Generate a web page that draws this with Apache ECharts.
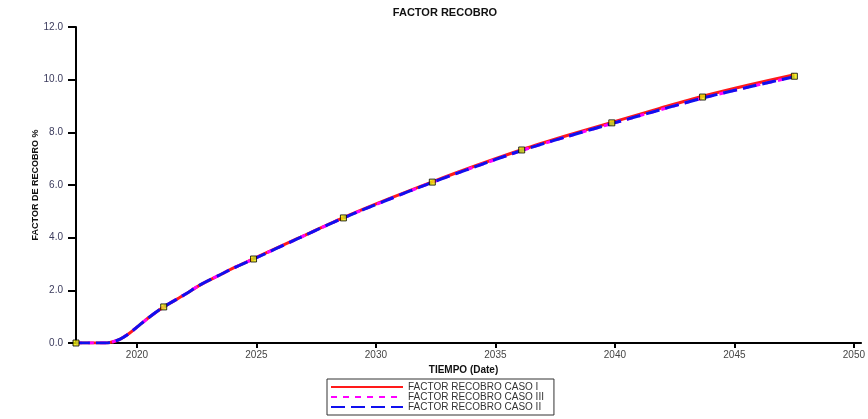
<!DOCTYPE html>
<html><head><meta charset="utf-8">
<script src="https://cdn.jsdelivr.net/npm/echarts@6/dist/echarts.min.js"></script>
<style>html,body{margin:0;padding:0;background:#fff}#c{width:868px;height:419px}</style>
</head><body><div id="c"></div>
<script>
const years =   [2017.45, 2018.0, 2018.7, 2019.0, 2019.3, 2019.7, 2020.0, 2020.5, 2021.12, 2022.0, 2022.63, 2023.5, 2024.0, 2024.88, 2026.75, 2028.64, 2030.5, 2032.36, 2034.2, 2036.1, 2038.0, 2039.87, 2041.8, 2043.67, 2045.6, 2047.51];
const casoI =   [0, 0, 0, 0.05, 0.15, 0.38, 0.6, 0.97, 1.37, 1.84, 2.2, 2.6, 2.83, 3.2, 3.98, 4.76, 5.46, 6.12, 6.74, 7.34, 7.88, 8.38, 8.89, 9.37, 9.8, 10.19];
const casoIII = [0, 0, 0, 0.05, 0.15, 0.38, 0.6, 0.97, 1.37, 1.84, 2.2, 2.6, 2.83, 3.19, 3.97, 4.75, 5.44, 6.1, 6.71, 7.31, 7.84, 8.33, 8.83, 9.3, 9.72, 10.11];
const casoII =  [0, 0, 0, 0.05, 0.15, 0.38, 0.6, 0.97, 1.37, 1.84, 2.2, 2.6, 2.83, 3.19, 3.97, 4.75, 5.44, 6.1, 6.71, 7.31, 7.84, 8.33, 8.83, 9.3, 9.72, 10.11];
const markerYears = [2017.45, 2021.12, 2024.88, 2028.64, 2032.36, 2036.1, 2039.87, 2043.67, 2047.51];
const markerVals =  [0, 1.37, 3.19, 4.75, 6.11, 7.33, 8.36, 9.34, 10.13];
const xTicks = [2020, 2025, 2030, 2035, 2040, 2045, 2050];
const names = ['FACTOR RECOBRO CASO I', 'FACTOR RECOBRO CASO III', 'FACTOR RECOBRO CASO II'];

const zip = (xs, ys) => xs.map((x, i) => [x, ys[i]]);
const font = 'Liberation Sans, Arial, sans-serif';
const chart = echarts.init(document.getElementById('c'));
chart.setOption({
  animation: false,
  textStyle: {fontFamily: font},
  title: {text: 'FACTOR RECOBRO', left: 440, top: 2, textAlign: 'center',
    textStyle: {fontSize: 11, fontWeight: 'bold', color: '#111', fontFamily: font}},
  grid: {left: 76, top: 27, right: 5, bottom: 76, containLabel: false},
  legend: {
    orient: 'vertical', left: 327, top: 379,
    data: names, itemWidth: 72, itemHeight: 6, itemGap: 0,
    padding: [3, 10, 3, 3], borderColor: '#333', borderWidth: 1,
    itemStyle: {opacity: 0},
    textStyle: {fontSize: 10, color: '#333', fontFamily: font, lineHeight: 10}
  },
  xAxis: {
    type: 'value', min: 2017.45, max: 2050.3,
    name: 'TIEMPO (Date)', nameLocation: 'middle', nameGap: 22,
    nameTextStyle: {fontSize: 10, fontWeight: 'bold', color: '#111', padding: [0, 0, 0, -10]},
    axisLine: {onZero: false, lineStyle: {color: '#000', width: 2}},
    axisTick: {show: true, length: 5, lineStyle: {color: '#000', width: 2}, customValues: xTicks},
    axisLabel: {fontSize: 10, color: '#444', customValues: xTicks, margin: 7, formatter: v => String(v)},
    splitLine: {show: false}
  },
  yAxis: {
    type: 'value', min: 0, max: 12, interval: 2,
    name: 'FACTOR DE RECOBRO %', nameLocation: 'middle', nameGap: 36, nameRotate: 90,
    nameMoveOverlap: false,
    nameTextStyle: {fontSize: 9, fontWeight: 'bold', color: '#111'},
    axisLine: {show: true, lineStyle: {color: '#000', width: 2}},
    axisTick: {show: true, length: 8, lineStyle: {color: '#000', width: 2}},
    axisLabel: {fontSize: 10, color: '#3a3a5c', margin: 13, formatter: v => v.toFixed(1)},
    splitLine: {show: false}
  },
  series: [
    {name: names[0], type: 'line', data: zip(years, casoI), symbol: 'none', smooth: 0.3,
      lineStyle: {color: '#ff1a1a', width: 3}, itemStyle: {color: '#ff1a1a'}, z: 2},
    {name: names[1], type: 'line', data: zip(years, casoIII), symbol: 'none', smooth: 0.3,
      lineStyle: {color: '#ff00ff', width: 3, type: [6, 6]}, itemStyle: {color: '#ff00ff'}, z: 3},
    {name: names[2], type: 'line', data: zip(years, casoII), symbol: 'none', smooth: 0.3,
      lineStyle: {color: '#1010ee', width: 3, type: [14, 6]}, itemStyle: {color: '#1010ee'}, z: 4},
    {type: 'scatter', data: zip(markerYears, markerVals), symbol: 'rect', symbolSize: 6,
      itemStyle: {color: '#eeee00', borderColor: '#000', borderWidth: 1}, z: 5, silent: true}
  ]
});
</script></body></html>
